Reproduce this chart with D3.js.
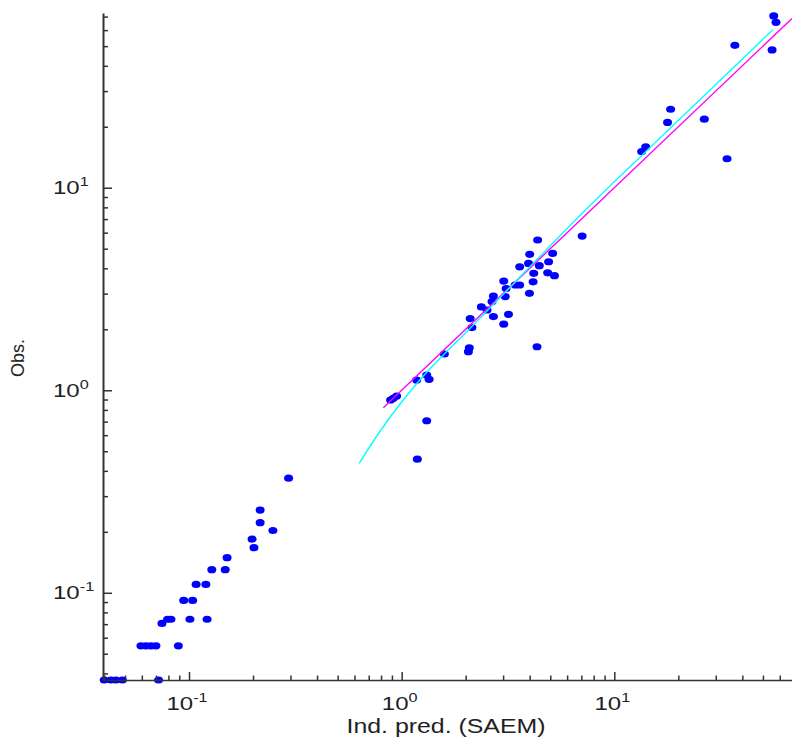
<!DOCTYPE html>
<html><head><meta charset="utf-8">
<script src="https://cdn.jsdelivr.net/npm/d3@7"></script>
<style>body{margin:0;background:#fff} svg{display:block}</style>
</head><body>
<svg id="c" width="792" height="742"></svg>
<script>
// individual predictions (x) and observations (y)
const predX = [
  0.0399,0.0429,0.0453,0.0486,0.0719,
  0.0594,0.0627,0.0662,0.0699,0.0891,
  0.0746,0.0793,0.0822,0.101,0.1216,
  0.0944,0.104,0.108,0.120,0.128,0.148,0.151,
  0.198,0.202,0.216,0.216,0.248,0.294,
  0.887,0.913,0.947,1.177,1.312,1.346,1.588,1.312,1.185,
  4.36,7.06,4.0,5.13,3.59,3.95,4.44,4.91,4.18,4.86,5.23,4.15,3.59,3.02,3.10,3.42,3.99,
  2.70,3.07,2.66,2.37,2.52,2.70,3.18,2.10,3.02,2.14,2.08,4.33,2.06,
  56.2,57.6,36.9,55.2,18.4,17.8,26.5,14.05,13.45,33.9
];
const obsY = [
  0.0371,0.0371,0.0371,0.0371,0.0371,
  0.0547,0.0547,0.0547,0.0547,0.0547,
  0.0706,0.074,0.074,0.074,0.074,
  0.0917,0.0917,0.110,0.110,0.130,0.130,0.149,
  0.184,0.167,0.256,0.222,0.203,0.368,
  0.895,0.912,0.936,1.123,1.189,1.132,1.51,0.707,0.457,
  5.52,5.77,4.69,4.74,4.07,4.23,4.12,4.31,3.78,3.80,3.68,3.43,3.31,3.46,3.18,3.31,3.01,
  2.92,2.90,2.74,2.58,2.49,2.31,2.37,2.26,2.12,2.04,1.62,1.64,1.55,
  70.5,65.6,50.5,47.9,24.4,21.0,21.8,15.9,15.1,13.9
];
// smooth (cyan) curve, read along its path
const smoothX = [0.631,0.794,1.0,1.259,1.585,1.995,2.512,3.162,3.981,5.012,6.310,7.943,10.0,15.85,25.12,39.81,55.6];
const smoothY = [0.4355,0.631,0.875,1.169,1.507,1.919,2.455,3.141,4.036,5.188,6.637,8.453,10.69,17.02,27.04,42.95,60.26];
// identity line (magenta)
const identX = [0.82, 68.5];

const xDomain = [0.0394, 68.5];
const yDomain = [0.0371, 72.9];
const xTitle = "Ind. pred. (SAEM)";
const yTitle = "Obs.";

const svg = d3.select("#c");
const x = d3.scaleLog().domain(xDomain).range([103, 792]);
const y = d3.scaleLog().domain(yDomain).range([680, 13]);
const axisCol = "#333";
const isMajor = v => Math.abs(Math.log10(v) - Math.round(Math.log10(v))) < 1e-9;

// points
const pts = predX.map((v, i) => [v, obsY[i]]);
svg.append("g").selectAll("ellipse").data(pts).join("ellipse")
  .attr("cx", d => x(d[0])).attr("cy", d => y(d[1]))
  .attr("rx", 4.5).attr("ry", 3.6).attr("fill", "#0000ff");

// lines
const line = d3.line().x(d => x(d[0])).y(d => y(d[1]));
svg.append("path").datum(identX.map(v => [v, v]))
  .attr("d", line).attr("fill", "none").attr("stroke", "#ff00ff").attr("stroke-width", 1.4);
svg.append("path").datum(smoothX.map((v, i) => [v, smoothY[i]]))
  .attr("d", d3.line().curve(d3.curveCatmullRom).x(d => x(d[0])).y(d => y(d[1])))
  .attr("fill", "none").attr("stroke", "#00ffff").attr("stroke-width", 1.4);

// axes (ticks pointing inward)
const xAxis = d3.axisTop(x).tickSizeOuter(0).tickFormat("");
const gx = svg.append("g").attr("transform", "translate(0,680)").call(xAxis);
gx.selectAll(".tick line").attr("y2", d => isMajor(d) ? -8 : -4.5);
const yAxis = d3.axisRight(y).tickSizeOuter(0).tickFormat("");
const gy = svg.append("g").attr("transform", "translate(103,0)").call(yAxis);
gy.selectAll(".tick line").attr("x2", d => isMajor(d) ? 9 : 5);
[gx, gy].forEach(g => {
  g.select(".domain").attr("stroke", axisCol);
  g.selectAll(".tick line").attr("stroke", axisCol).attr("stroke-width", 1.5);
});
gx.select(".domain").attr("stroke-width", 1.5);
gy.select(".domain").attr("stroke-width", 2);

// tick labels 10^n
const font = "Liberation Sans, Arial, sans-serif";
const xMaj = x.ticks().filter(isMajor);
const yMaj = y.ticks().filter(isMajor);
function powLabel(g, v, anchor) {
  const t = g.append("text").attr("font-family", font).attr("font-size", 18.5)
    .attr("fill", "#222").attr("text-anchor", anchor);
  t.append("tspan").text("10");
  t.append("tspan").attr("font-size", 12.5).attr("dy", -8).text(String(Math.round(Math.log10(v))));
}
xMaj.forEach(v => {
  const g = svg.append("g").attr("transform", `translate(${x(v) - 2},710) scale(1.3,1)`);
  powLabel(g, v, "middle");
});
yMaj.forEach(v => {
  const g = svg.append("g").attr("transform", `translate(53,${y(v) + 6.5}) scale(1.3,1)`);
  powLabel(g, v, "start");
});

// axis titles
svg.append("text").attr("x", 446).attr("y", 733).attr("text-anchor", "middle")
  .attr("font-family", font).attr("font-size", 19.5).attr("fill", "#222")
  .attr("textLength", 199).attr("lengthAdjust", "spacingAndGlyphs").text(xTitle);
svg.append("text").attr("transform", "translate(24,358) rotate(-90)").attr("text-anchor", "middle")
  .attr("font-family", font).attr("font-size", 18).attr("fill", "#222").text(yTitle);
</script>
</body></html>
